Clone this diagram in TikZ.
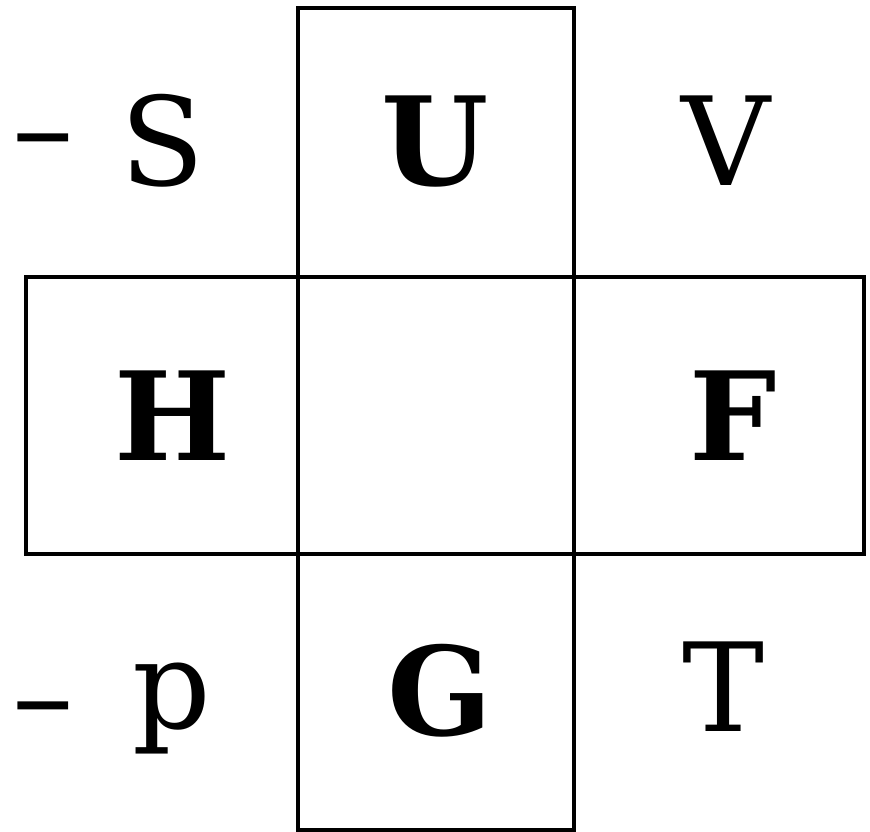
\documentclass[tikz,border=0pt]{standalone}
\usepackage{fontspec}
\setmainfont{DejaVu Serif}
\usepackage{tikz}

\begin{document}
\begin{tikzpicture}[x=0.02cm,y=-0.02cm,
  cell/.style={line width=2.2pt},
  sym/.style={inner sep=0pt,anchor=base,font=\fontsize{70}{80}\selectfont},
  pot/.style={sym,font=\fontsize{70}{80}\selectfont\bfseries}]
\fill[white] (0,0) rectangle (870,832);
\useasboundingbox (0,0) rectangle (870,832);
% the four squares
\draw[cell] (298,8) rectangle (574,277);
\draw[cell] (26,277) rectangle (298,554);
\draw[cell] (574,277) rectangle (864,554);
\draw[cell] (298,554) rectangle (574,830);
% potentials
\node[pot] (U) at (435,185) {U};
\node[pot] (H) at (173,460) {H};
\node[pot] (F) at (733,460) {F};
\node[pot] (G) at (440,735) {G};
% variables
\node[sym,anchor=base west] (S) at (12,185) {\raisebox{0.3cm}{–}\kern0.38em S};
\node[sym] (V) at (726,185) {V};
\node[sym,anchor=base west] (p) at (12,728) {\raisebox{-0.2cm}{–}\kern0.48em p};
\node[sym] (T) at (724,731) {T};
\end{tikzpicture}
\end{document}
